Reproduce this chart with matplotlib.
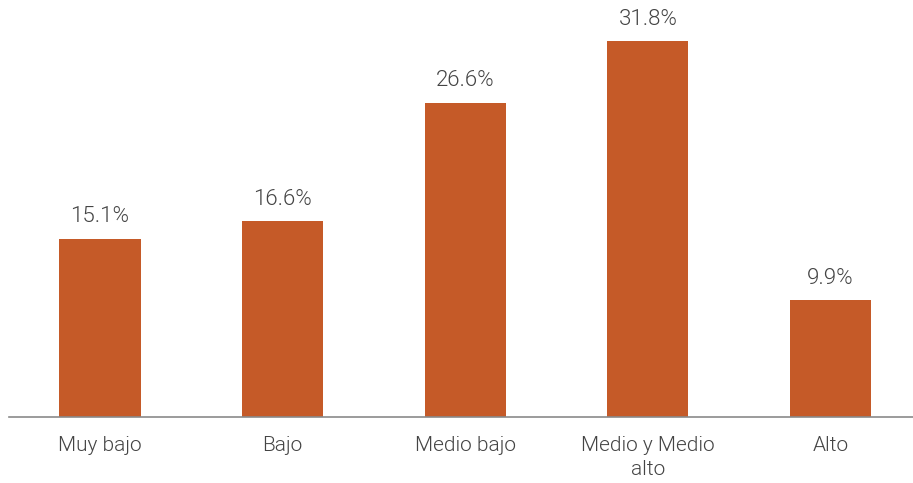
import matplotlib
matplotlib.use("Agg")
import matplotlib.pyplot as plt

categories = ["Muy bajo", "Bajo", "Medio bajo", "Medio y Medio\nalto", "Alto"]
values = [15.1, 16.6, 26.6, 31.8, 9.9]
labels = ["15.1%", "16.6%", "26.6%", "31.8%", "9.9%"]

plt.rcParams['font.family'] = ['Roboto', 'DejaVu Sans']

fig = plt.figure(figsize=(9.13, 4.83), dpi=100)
ax = fig.add_axes([9/913, (483-417)/483, 1 - 9/913, 417/483])
x = list(range(len(categories)))
bars = ax.bar(x, values, width=0.445, color="#C55A28")
ax.set_xlim(-0.498, 4.452)
ax.set_ylim(0, 35.28)
for xi, v, lab in zip(x, values, labels):
    ax.annotate(lab, (xi, v), xytext=(0, 8), textcoords="offset points",
                ha="center", va="bottom", fontsize=16, color="#444444",
                fontweight=300)
ax.set_xticks(x)
ax.set_xticklabels(categories, fontsize=15, color="#444444", fontweight=300,
                   linespacing=1.3)
ax.tick_params(axis="x", length=0, pad=14)
ax.set_yticks([])
for s in ["top", "right", "left"]:
    ax.spines[s].set_visible(False)
ax.spines["bottom"].set_color("#8a8a8a")
ax.spines["bottom"].set_linewidth(1.2)
fig.savefig("out.png", dpi=100)
